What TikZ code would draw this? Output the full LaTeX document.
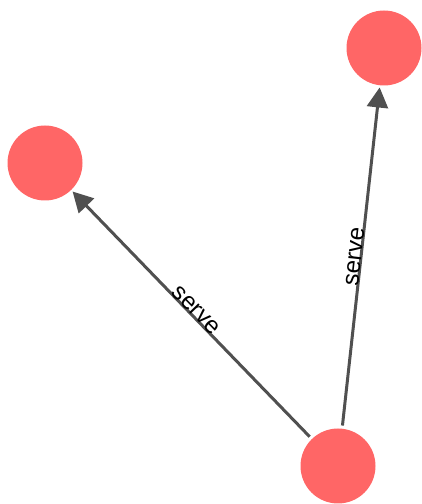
\documentclass[tikz,border=0pt]{standalone}
\usepackage{fontspec}
\setmainfont{Liberation Sans}
\usetikzlibrary{arrows.meta}
\definecolor{nodered}{RGB}{255,102,102}
\definecolor{edgegray}{RGB}{80,80,80}
\tikzset{
  dotnode/.style={circle, fill=nodered, draw=none, minimum size=75pt, inner sep=0pt},
  servedge/.style={draw=edgegray, line width=3pt, -{Triangle[length=20pt,width=21pt]}, shorten >=2pt, shorten <=3pt},
  edgelabel/.style={sloped, midway, anchor=south, inner sep=0pt, yshift=-2pt, font=\fontsize{24}{27}\selectfont, text=black}
}
\begin{document}
\begin{tikzpicture}[x=1pt,y=1pt]
\useasboundingbox (0,0) rectangle (421,504);
\node[dotnode] (L) at (45,341) {};
\node[dotnode] (T) at (384,456) {};
\node[dotnode] (B) at (338,38) {};
\draw[servedge] (B) -- node[edgelabel] (l1) {serve} (L);
\draw[servedge] (B) -- node[edgelabel] (l2) {serve} (T);
\end{tikzpicture}
\end{document}
